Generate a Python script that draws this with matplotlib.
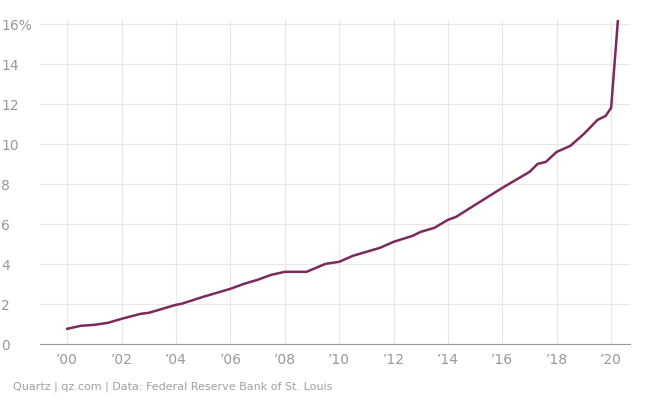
import matplotlib
matplotlib.use("Agg")
import matplotlib.pyplot as plt

years = [2000.0, 2000.5, 2001.0, 2001.5, 2002.0, 2002.7, 2003.0, 2004.0, 2004.2, 2005.0, 2006.0, 2006.5, 2007.0, 2007.5,
         2008.0, 2008.8, 2009.5, 2010.0, 2010.5, 2011.0, 2011.5, 2012.0, 2012.7, 2013.0, 2013.5, 2014.0, 2014.3,
         2015.0, 2016.0, 2017.0, 2017.3, 2017.6, 2018.0, 2018.5, 2019.0, 2019.5, 2019.8, 2020.0, 2020.25]
values = [0.75, 0.9, 0.95, 1.05, 1.25, 1.5, 1.55, 1.95, 2.0, 2.35, 2.75, 3.0, 3.2, 3.45,
          3.6, 3.6, 4.0, 4.1, 4.4, 4.6, 4.8, 5.1, 5.4, 5.6, 5.8, 6.2, 6.35,
          6.95, 7.8, 8.6, 9.0, 9.1, 9.6, 9.9, 10.5, 11.2, 11.4, 11.8, 16.2]
xticks = list(range(2000, 2021, 2))
xlabels = ["’00", "’02", "’04", "’06", "’08", "’10", "’12", "’14", "’16", "’18", "’20"]
yticks = [0, 2, 4, 6, 8, 10, 12, 14, 16]
ylabels = ["0", "2", "4", "6", "8", "10", "12", "14", "16%"]

fig = plt.figure(figsize=(6.45, 4.10), dpi=100)
ax = fig.add_axes([0.062, 0.159, 0.915, 0.79])
ax.plot(years, values, color="#7b2a5c", lw=1.8)
ax.set_xlim(1999.0, 2020.7)
ax.set_ylim(0, 16.2)
ax.set_xticks(xticks)
ax.set_xticklabels(xlabels)
ax.set_yticks(yticks)
ax.set_yticklabels(ylabels)
ax.grid(True, color="#e8e8e8", lw=0.8)
ax.set_axisbelow(True)
for s in ["top", "right", "left"]:
    ax.spines[s].set_visible(False)
ax.spines["bottom"].set_color("#999999")
ax.tick_params(axis="both", length=0, colors="#999999", labelsize=10, pad=6)
for lab in ax.get_yticklabels():
    lab.set_horizontalalignment("left")
ax.tick_params(axis="y", pad=28)
fig.text(0.02, 0.05, "Quartz | qz.com | Data: Federal Reserve Bank of St. Louis", color="#a0a0a0", fontsize=8)
fig.savefig("out.png")
